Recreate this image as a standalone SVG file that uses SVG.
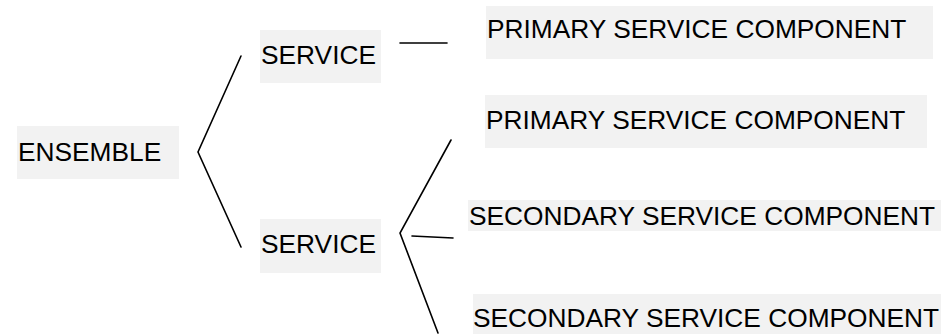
<svg xmlns="http://www.w3.org/2000/svg" width="941" height="334" viewBox="0 0 941 334">
<style>
.box{fill:#f2f2f2;stroke:none}
.t{font-family:"Liberation Sans",Arial,sans-serif;font-size:26.3px;fill:#000}
.c{stroke:#000;stroke-width:1.6;fill:none;stroke-linecap:round}
</style>
<rect width="941" height="334" fill="#fff"/>
<g id="ensemble"><rect class="box" x="17" y="126" width="162" height="53"/><text class="t" x="18" y="161">ENSEMBLE</text></g>
<g id="service1"><rect class="box" x="260" y="30" width="121" height="53"/><text class="t" x="261" y="64">SERVICE</text></g>
<g id="service2"><rect class="box" x="260" y="219" width="121" height="54"/><text class="t" x="261" y="253">SERVICE</text></g>
<g id="primary1"><rect class="box" x="486" y="6" width="447" height="53"/><text class="t" x="487" y="38">PRIMARY SERVICE COMPONENT</text></g>
<g id="primary2"><rect class="box" x="485" y="95" width="442" height="53"/><text class="t" x="486" y="129">PRIMARY SERVICE COMPONENT</text></g>
<g id="secondary1"><rect class="box" x="468" y="200" width="473" height="31"/><text class="t" x="469" y="225">SECONDARY SERVICE COMPONENT</text></g>
<g id="secondary2"><rect class="box" x="473" y="294" width="468" height="40"/><text class="t" x="473" y="327">SECONDARY SERVICE COMPONENT</text></g>
<g id="connectors">
<polyline class="c" points="241,56 198,152 241,247"/>
<line class="c" x1="400" y1="43" x2="447" y2="43"/>
<polyline class="c" points="451,140 400,233 438,333"/>
<line class="c" x1="412" y1="236" x2="453" y2="238"/>
</g>
</svg>
